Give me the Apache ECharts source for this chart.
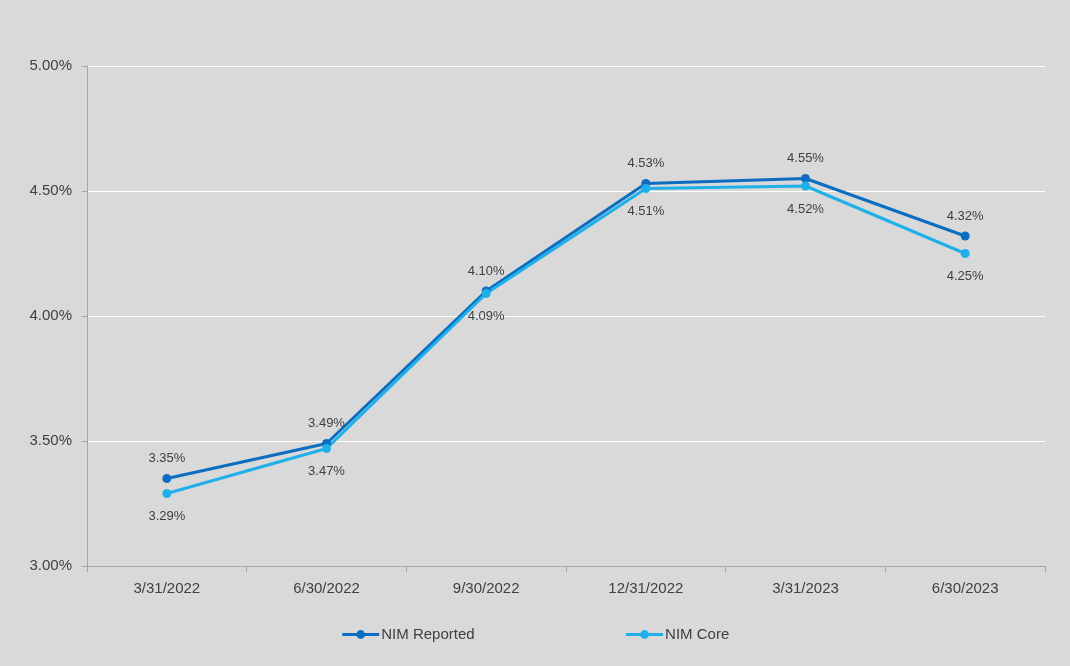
<!DOCTYPE html>
<html><head><meta charset="utf-8">
<script src="https://cdn.jsdelivr.net/npm/echarts@6/dist/echarts.min.js"></script>
<style>html,body{margin:0;padding:0;background:#d9d9d9}#c{width:1070px;height:666px}</style>
</head><body><div id="c"></div>
<script>
const categories = ['3/31/2022','6/30/2022','9/30/2022','12/31/2022','3/31/2023','6/30/2023'];
const nimReported = [3.35, 3.49, 4.10, 4.53, 4.55, 4.32];
const nimCore = [3.29, 3.47, 4.09, 4.51, 4.52, 4.25];
const font = 'Liberation Sans, Arial, sans-serif';
const chart = echarts.init(document.getElementById('c'), null, {renderer:'canvas'});
chart.setOption({
  backgroundColor: '#d9d9d9',
  animation: false,
  grid: {left: 87, right: 25, top: 66, bottom: 100},
  legend: {
    top: 622, left: 'center', itemGap: 150, itemWidth: 37, itemHeight: 11,
    lineStyle: {width: 3},
    textStyle: {fontFamily: font, fontSize: 15, color: '#404040', padding: [0,0,0,-3]},
    data: ['NIM Reported', 'NIM Core']
  },
  xAxis: {
    type: 'category', data: categories, boundaryGap: true,
    axisLine: {lineStyle: {color: '#a6a6a6', width: 1}},
    axisTick: {show: true, length: 6, lineStyle: {color: '#a6a6a6'}},
    axisLabel: {fontFamily: font, fontSize: 15, color: '#404040', margin: 15}
  },
  yAxis: {
    type: 'value', min: 3, max: 5, interval: 0.5,
    axisLine: {show: true, lineStyle: {color: '#a6a6a6', width: 1}},
    axisTick: {show: true, length: 5, lineStyle: {color: '#a6a6a6'}},
    splitLine: {lineStyle: {color: '#ffffff', width: 1}},
    axisLabel: {fontFamily: font, fontSize: 15, color: '#404040', margin: 15,
      formatter: v => v.toFixed(2) + '%'}
  },
  series: [
    {name: 'NIM Reported', type: 'line', data: nimReported, symbol: 'circle', symbolSize: 9,
     color: '#0b6ec0', lineStyle: {width: 3},
     label: {show: true, position: 'top', distance: 9, fontFamily: font, fontSize: 13, color: '#404040',
       formatter: p => p.value.toFixed(2) + '%'}},
    {name: 'NIM Core', type: 'line', data: nimCore, symbol: 'circle', symbolSize: 9,
     color: '#1fb0ea', lineStyle: {width: 3},
     label: {show: true, position: 'bottom', distance: 12, fontFamily: font, fontSize: 13, color: '#404040',
       formatter: p => p.value.toFixed(2) + '%'}}
  ]
});
</script></body></html>
